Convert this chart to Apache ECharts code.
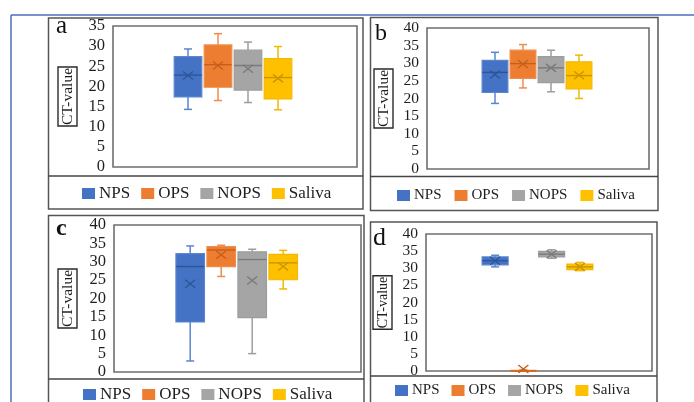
<!DOCTYPE html>
<html><head><meta charset="utf-8">
<script src="https://cdn.jsdelivr.net/npm/echarts@6/dist/echarts.min.js"></script>
<style>html,body{margin:0;padding:0;background:#fff}#c{width:694px;height:402px}</style>
</head><body><div id="c"></div>
<script>
// ---------- DATA ----------
const groups = ['NPS', 'OPS', 'NOPS', 'Saliva'];
// each row (one per group): [min, Q1, median, Q3, max, mean]
const panelA = [
  [14.3, 17.4, 22.8, 27.4, 29.3, 22.7],
  [16.5, 19.8, 25.4, 30.3, 33.1, 25.2],
  [16.0, 19.1, 25.2, 29.0, 31.0, 24.4],
  [14.2, 16.9, 22.2, 26.9, 29.9, 22.0]
];
const panelB = [
  [18.6, 21.7, 27.4, 30.8, 33.1, 26.8],
  [23.0, 25.7, 29.9, 33.7, 35.3, 29.8],
  [21.9, 24.5, 28.7, 31.9, 33.7, 28.7],
  [20.0, 22.7, 26.5, 30.4, 32.3, 26.6]
];
const panelC = [
  [3.0, 13.6, 28.7, 32.2, 34.3, 24.0],
  [26.0, 28.7, 33.2, 34.1, 34.5, 31.9],
  [5.0, 14.8, 30.6, 32.7, 33.4, 24.9],
  [22.6, 25.1, 29.7, 32.0, 33.1, 28.7]
];
const panelD = [
  [30.4, 31.0, 32.2, 33.3, 33.8, 32.2],
  [0.0, 0.0, 0.0, 0.2, 0.4, 0.6],
  [32.9, 33.3, 34.1, 34.9, 35.4, 34.1],
  [29.3, 29.6, 30.4, 31.2, 31.7, 30.4]
];
const axisMaxA = 35, axisMaxB = 40, axisMaxC = 40, axisMaxD = 40;
const tickStep = 5;
const yTitle = 'CT-value';
const panelLetters = ['a', 'b', 'c', 'd'];

// ---------- STYLE ----------
const fillColors = ['#4472C4', '#ED7D31', '#A5A5A5', '#FFC000'];
const lineColors = ['#5a86d0', '#ef8c4c', '#9d9d9d', '#f3b800'];
const darkColors = ['#2f5597', '#c55f1c', '#7a7a7a', '#c99500'];
const FONT = "'Liberation Serif', 'Times New Roman', serif";

const panels = [
  {data: panelA, max: axisMaxA, frame: {left: 113, top: 26, width: 244, height: 141}, inner: {left: 173, width: 120},
   nameGap: 36, nameSize: 15.5, tickSize: 16.5, legend: {left: 82, top: 185, size: 17, gap: 11},
   letter: {x: 56, y: 26, size: 25, weight: 'normal'}, box: {x: 48.5, y: 18, w: 314.5, h: 191}, sep: 176},
  {data: panelB, max: axisMaxB, frame: {left: 427, top: 28, width: 222, height: 141}, inner: {left: 481, width: 112},
   nameGap: 34, nameSize: 15.5, tickSize: 15.5, legend: {left: 397, top: 188, size: 15, gap: 13},
   letter: {x: 375, y: 34, size: 24, weight: 'normal'}, box: {x: 370.5, y: 17.5, w: 287.5, h: 193}, sep: 176.5},
  {data: panelC, max: axisMaxC, frame: {left: 114, top: 225, width: 247, height: 147}, inner: {left: 174.7, width: 124},
   nameGap: 37, nameSize: 15.5, tickSize: 16.5, legend: {left: 83, top: 386, size: 17, gap: 11},
   letter: {x: 56, y: 229, size: 24, weight: 'bold'}, box: {x: 48.5, y: 215.5, w: 315.5, h: 200}, sep: 379},
  {data: panelD, max: axisMaxD, frame: {left: 426, top: 234, width: 226, height: 137}, inner: {left: 481, width: 113},
   nameGap: 34, nameSize: 14, tickSize: 15.5, legend: {left: 395, top: 383, size: 15, gap: 12},
   letter: {x: 373, y: 238, size: 26, weight: 'normal'}, box: {x: 370.5, y: 222, w: 286.5, h: 200}, sep: 376}
];

function makeRender(g) {
  return function (params, api) {
    const cat = api.value(0);
    const xc = api.coord([cat, 0])[0];
    const w = api.size([1, 0])[0] * 0.92;
    const Y = v => api.coord([cat, v])[1];
    const mn = api.value(1), q1 = api.value(2), md = api.value(3), q3 = api.value(4), mx = api.value(5), mean = api.value(6);
    const ln = {stroke: lineColors[g], lineWidth: 1.5};
    const dk = {stroke: darkColors[g], lineWidth: 1.4};
    const cap = 8, xs = 5, ys = 4;
    const ym = Y(mean);
    return {type: 'group', children: [
      {type: 'line', shape: {x1: xc, y1: Y(mx), x2: xc, y2: Y(q3)}, style: ln},
      {type: 'line', shape: {x1: xc, y1: Y(q1), x2: xc, y2: Y(mn)}, style: ln},
      {type: 'line', shape: {x1: xc - cap / 2, y1: Y(mx), x2: xc + cap / 2, y2: Y(mx)}, style: ln},
      {type: 'line', shape: {x1: xc - cap / 2, y1: Y(mn), x2: xc + cap / 2, y2: Y(mn)}, style: ln},
      {type: 'rect', shape: {x: xc - w / 2, y: Y(q3), width: w, height: Math.max(Y(q1) - Y(q3), 1)},
       style: {fill: fillColors[g], stroke: lineColors[g], lineWidth: 1.2}},
      {type: 'line', shape: {x1: xc - w / 2, y1: Y(md), x2: xc + w / 2, y2: Y(md)}, style: dk},
      {type: 'line', shape: {x1: xc - xs, y1: ym - ys, x2: xc + xs, y2: ym + ys}, style: dk},
      {type: 'line', shape: {x1: xc - xs, y1: ym + ys, x2: xc + xs, y2: ym - ys}, style: dk}
    ]};
  };
}

const grid = [], xAxis = [], yAxis = [], series = [], legend = [], graphic = [];

// outer blue frame
graphic.push({type: 'line', shape: {x1: 11, y1: 15, x2: 694, y2: 15}, style: {stroke: '#4a6fc0', lineWidth: 1.5}, silent: true});
graphic.push({type: 'line', shape: {x1: 11, y1: 15, x2: 11, y2: 402}, style: {stroke: '#4a6fc0', lineWidth: 1.5}, silent: true});

panels.forEach((p, i) => {
  const fi = 2 * i, ii = 2 * i + 1;
  grid.push({left: p.frame.left, top: p.frame.top, width: p.frame.width, height: p.frame.height,
    show: true, borderColor: '#6f6f6f', borderWidth: 1.6, backgroundColor: 'transparent'});
  grid.push({left: p.inner.left, top: p.frame.top, width: p.inner.width, height: p.frame.height});
  xAxis.push({type: 'category', gridIndex: fi, data: [''], show: false});
  xAxis.push({type: 'category', gridIndex: ii, data: groups, show: false});
  yAxis.push({type: 'value', gridIndex: fi, min: 0, max: p.max, interval: tickStep,
    axisLine: {show: false}, axisTick: {show: false}, splitLine: {show: false},
    axisLabel: {fontFamily: FONT, fontSize: p.tickSize, color: '#1e1e1e', margin: 8},
    name: yTitle, nameLocation: 'middle', nameRotate: 90, nameGap: p.nameGap,
    nameTextStyle: {fontFamily: FONT, fontSize: p.nameSize, color: '#1e1e1e', lineHeight: 16,
      borderColor: '#2a2a2a', borderWidth: 1.4, padding: [2, 1, 1, 1]}});
  yAxis.push({type: 'value', gridIndex: ii, min: 0, max: p.max, interval: tickStep, show: false});
  groups.forEach((g, gi) => {
    series.push({type: 'custom', name: g, xAxisIndex: ii, yAxisIndex: ii,
      itemStyle: {color: fillColors[gi]}, encode: {x: 0, y: [1, 2, 3, 4, 5, 6]},
      renderItem: makeRender(gi), clip: false,
      data: [[gi].concat(p.data[gi])]});
  });
  legend.push({left: p.legend.left, top: p.legend.top, padding: 0, itemGap: p.legend.gap,
    itemWidth: 13, itemHeight: 11, icon: 'rect', selectedMode: false,
    data: groups.slice(),
    textStyle: {fontFamily: FONT, fontSize: p.legend.size, color: '#1e1e1e', padding: [0, 0, 0, -1]}});
  graphic.push({type: 'rect', shape: {x: p.box.x, y: p.box.y, width: p.box.w, height: p.box.h},
    style: {fill: 'none', stroke: '#555', lineWidth: 1.5}, silent: true, z: -1});
  graphic.push({type: 'line', shape: {x1: p.box.x, y1: p.sep, x2: p.box.x + p.box.w, y2: p.sep},
    style: {stroke: '#444', lineWidth: 1.5}, silent: true});
  graphic.push({type: 'text', style: {text: panelLetters[i], x: p.letter.x, y: p.letter.y,
    fontFamily: FONT, fontSize: p.letter.size, fontWeight: p.letter.weight, fill: '#111',
    verticalAlign: 'middle', align: 'left'}, silent: true});
});

const chart = echarts.init(document.getElementById('c'), null, {renderer: 'canvas'});
chart.setOption({animation: false, backgroundColor: '#fff', grid, xAxis, yAxis, series, legend, graphic});
</script>
</body></html>
